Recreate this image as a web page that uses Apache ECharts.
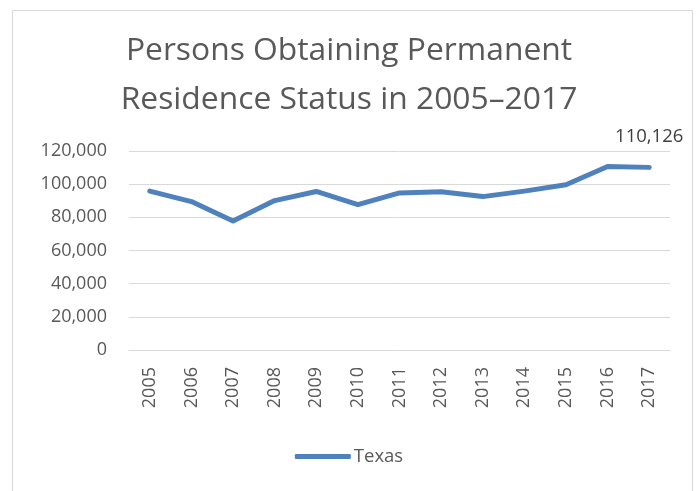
<!DOCTYPE html>
<html>
<head>
<meta charset="utf-8">
<script src="https://cdn.jsdelivr.net/npm/echarts@6/dist/echarts.min.js"></script>
<style>
html,body{margin:0;padding:0;background:#fff;}
#main{width:698px;height:491px;}
</style>
</head>
<body>
<div id="main"></div>
<script>
const years = ['2005','2006','2007','2008','2009','2010','2011','2012','2013','2014','2015','2016','2017'];
const texas = [95800, 89500, 77800, 90100, 95600, 87700, 94700, 95400, 92500, 95800, 99600, 110700, 110126];
const yTicks = [0, 20000, 40000, 60000, 80000, 100000, 120000];
const seriesName = 'Texas';
const titleText = 'Persons Obtaining Permanent\nResidence Status in 2005\u20132017';

const chart = echarts.init(document.getElementById('main'), null, {renderer:'canvas'});
const font = '"Open Sans", "Noto Sans", sans-serif';
chart.setOption({
  animation:false,
  backgroundColor:'#ffffff',
  title:{
    text:titleText,
    left:'center',
    top:21,
    textStyle:{fontFamily:font, fontSize:31.8, fontWeight:'normal', color:'#595959', lineHeight:49}
  },
  graphic:[{
    type:'rect', left:10, top:8, silent:true,
    shape:{width:680, height:490},
    style:{fill:'none', stroke:'#d9d9d9', lineWidth:1}
  }],
  legend:{
    data:[seriesName],
    left:'center', top:442,
    itemWidth:56, itemHeight:5,
    icon:'roundRect',
    itemGap:4,
    textStyle:{fontFamily:font, fontSize:18.5, color:'#595959', padding:[0,0,0,-2]}
  },
  grid:{left:129, right:28, top:151, bottom:141},
  xAxis:{
    type:'category',
    data:years,
    boundaryGap:true,
    axisLine:{show:true, lineStyle:{color:'#d9d9d9', width:1}},
    axisTick:{show:false},
    axisLabel:{rotate:90, fontFamily:font, fontSize:18, color:'#595959', margin:17, interval:0}
  },
  yAxis:{
    type:'value',
    min:yTicks[0], max:yTicks[yTicks.length-1], interval:20000,
    axisLine:{show:false}, axisTick:{show:false},
    splitLine:{lineStyle:{color:'#d9d9d9', width:1}},
    axisLabel:{fontFamily:font, fontSize:18, color:'#595959', margin:22,
      formatter:v=>v.toLocaleString('en-US')}
  },
  series:[{
    name:seriesName,
    type:'line',
    data:texas,
    symbol:'none',
    lineStyle:{color:'#4f81bd', width:5, cap:'round', join:'round'},
    itemStyle:{color:'#4f81bd'},
    label:{show:false},
    markPoint:{
      symbol:'circle', symbolSize:0,
      data:[{coord:[years.length-1, texas[texas.length-1]], value:texas[texas.length-1]}],
      label:{show:true, position:'top', distance:21, fontFamily:font, fontSize:18.5, color:'#404040',
        formatter:p=>p.value.toLocaleString('en-US')}
    }
  }]
});
</script>
</body>
</html>
